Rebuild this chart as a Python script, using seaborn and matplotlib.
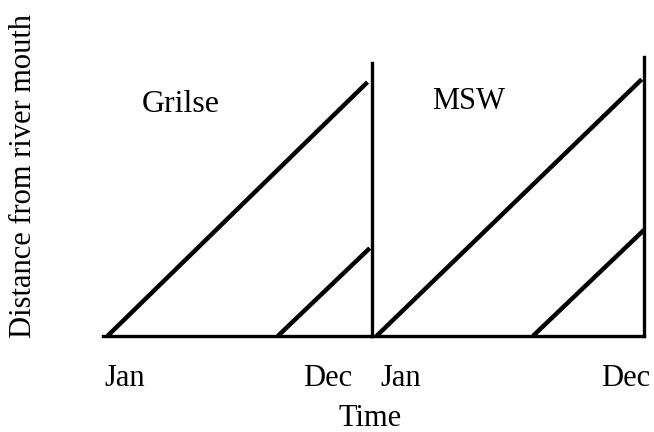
import matplotlib
matplotlib.use("Agg")
import matplotlib.pyplot as plt
import pandas as pd
import seaborn as sns

# runs of fish moving upstream: start month (at river mouth) -> end month / distance
cohorts = ["Grilse", "MSW"]
grilse_start = [0.2, 7.8]
grilse_end = [11.8, 11.9]
grilse_dist = [0.91, 0.315]
msw_start = [0.2, 7.1]
msw_end = [11.9, 12.0]
msw_dist = [0.92, 0.38]

tick_labels = ["Jan", "Dec"]
grilse_ticks = [0.95, 10.0]
msw_ticks = [1.25, 11.2]


def make_frame(starts, ends, dists):
    rows = []
    for i, (s, e, d) in enumerate(zip(starts, ends, dists)):
        rows.append({"run": i, "month": s, "distance": 0.0})
        rows.append({"run": i, "month": e, "distance": d})
    return pd.DataFrame(rows)


frames = {
    "Grilse": make_frame(grilse_start, grilse_end, grilse_dist),
    "MSW": make_frame(msw_start, msw_end, msw_dist),
}
ticks = {"Grilse": grilse_ticks, "MSW": msw_ticks}

sns.set_style("white")
plt.rcParams["font.family"] = ["Liberation Serif", "DejaVu Serif"]
plt.rcParams["text.color"] = "black"
plt.rcParams["xtick.color"] = "black"

fig = plt.figure(figsize=(6.54, 4.32), dpi=100)
ax_l = fig.add_axes([103 / 654, 96 / 432, 269 / 654, 279 / 432])
ax_r = fig.add_axes([372 / 654, 96 / 432, 272 / 654, 279 / 432])

for ax, name in zip([ax_l, ax_r], cohorts):
    ax.patch.set_visible(False)
    sns.lineplot(data=frames[name], x="month", y="distance", units="run",
                 estimator=None, color="black", lw=3.2, ax=ax,
                 solid_capstyle="butt")
    ax.set_xlim(0, 12)
    ax.set_ylim(0, 1)
    ax.set_xticks(ticks[name])
    ax.set_xticklabels(tick_labels, fontsize=22)
    ax.tick_params(axis="x", length=0, pad=20, labelcolor="black")
    ax.set_yticks([])
    ax.set_xlabel("")
    ax.set_ylabel("")
    for side in ["top", "left"]:
        ax.spines[side].set_visible(False)
    for side in ["bottom", "right"]:
        ax.spines[side].set_color("black")
        ax.spines[side].set_linewidth(2.4)

ax_l.spines["right"].set_bounds(0, 0.978)
ax_l.text(1.74, 0.83, "Grilse", fontsize=23, va="center", ha="left")
ax_r.text(2.65, 0.842, "MSW", fontsize=22, va="center", ha="left")

fig.text(370 / 654, 1 - 418 / 432, "Time", fontsize=22, ha="center", va="center")
fig.text(24 / 654, 1 - 176 / 432, "Distance from river mouth", fontsize=22,
         rotation=90, ha="center", va="center")

fig.savefig("out.png", dpi=100, facecolor="white")
